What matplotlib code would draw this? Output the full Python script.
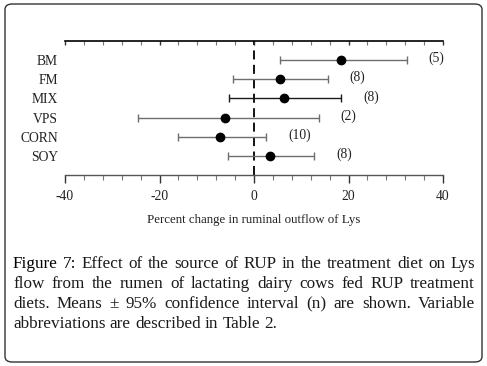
import matplotlib
matplotlib.use("Agg")
import matplotlib.pyplot as plt
from matplotlib.patches import FancyBboxPatch
from matplotlib.ticker import MultipleLocator

categories = ["BM", "FM", "MIX", "VPS", "CORN", "SOY"]
means = [18.5, 5.4, 6.3, -6.1, -7.1, 3.4]
ci_low = [5.4, -4.4, -5.2, -24.5, -16.1, -5.6]
ci_high = [32.4, 15.6, 18.5, 13.7, 2.6, 12.8]
n_labels = ["(5)", "(8)", "(8)", "(2)", "(10)", "(8)"]
bar_colors = ["#6e6e6e", "#6e6e6e", "#1a1a1a", "#6e6e6e", "#6e6e6e", "#6e6e6e"]
xticks = [-40, -20, 0, 20, 40]
xlabel = "Percent change in ruminal outflow of Lys"
caption_lines = [
    "Figure 7: Effect of the source of RUP in the treatment diet on Lys",
    "flow from the rumen of lactating dairy cows fed RUP treatment",
    "diets. Means \u00b1 95% confidence interval (n) are shown. Variable",
    "abbreviations are described in Table 2.",
]

W, H = 487, 366
fig = plt.figure(figsize=(W / 100, H / 100), dpi=100)
serif = "Liberation Serif"

# rounded frame
frame = FancyBboxPatch((5 / W, 4 / H), 477 / W, 358 / H,
                       boxstyle="round,pad=0,rounding_size=0.015",
                       transform=fig.transFigure, fill=False,
                       edgecolor="#333333", linewidth=1.0)
fig.patches.append(frame)

ax = fig.add_axes([65 / W, 1 - 175 / H, 378 / W, 134 / H])
ax.set_xlim(-40, 40)
ax.set_ylim(-1, 6)
ys = list(range(len(categories) - 1, -1, -1))

for y, m, lo, hi, c, lab in zip(ys, means, ci_low, ci_high, bar_colors, n_labels):
    ax.errorbar([m], [y], xerr=[[m - lo], [hi - m]], fmt="none", ecolor=c,
                elinewidth=1.0, capsize=2.8, capthick=1.0, zorder=2)
    ax.plot([m], [y], "o", color="black", markersize=6, zorder=3)
    ax.text(hi + 4.6, y + 0.08, lab, fontsize=9.8, family=serif, ha="left",
            va="center", color="#222222")

ax.axvline(0, ymin=0, ymax=1, color="black", linestyle=(0, (5, 3)),
           linewidth=1.3, zorder=1, clip_on=False)

ax.set_yticks(ys)
ax.set_yticklabels(categories, fontsize=9.8, family=serif, color="#222222")
ax.tick_params(axis="y", length=0, pad=5)

for s in ["left", "right"]:
    ax.spines[s].set_visible(False)
ax.spines["top"].set_linewidth(1.2)
ax.spines["bottom"].set_linewidth(1.0)
ax.spines["bottom"].set_color("#555555")

ax.set_xticks(xticks)
ax.set_xticklabels([str(t) for t in xticks], fontsize=9.8, family=serif,
                   color="#222222")
ax.xaxis.set_minor_locator(MultipleLocator(4))
ax.tick_params(axis="x", which="major", direction="out", length=6, width=1.0,
               color="#333333", pad=5, top=True)
ax.tick_params(axis="x", which="minor", direction="out", length=3.5,
               width=0.8, color="#777777", top=True)
# top ticks point inward (downward)
for t in ax.xaxis.get_major_ticks() + ax.xaxis.get_minor_ticks():
    t.tick2line.set_marker(3)  # TICKDOWN
    t.tick2line.set_markersize(3)
ax.set_xlabel(xlabel, fontsize=9.3, family=serif, labelpad=8, color="#222222")

# justified caption
fig.canvas.draw()
renderer = fig.canvas.get_renderer()
left_px, right_px = 13, 475
baselines = [267.5, 287.8, 308.2, 328.5]
fs = 12.3


def word_width(word):
    t = fig.text(0, 0, word, fontsize=fs, family=serif)
    w = t.get_window_extent(renderer).width
    t.remove()
    return w


space_w = word_width("a b") - word_width("ab")
for i, line in enumerate(caption_lines):
    words = line.split(" ")
    widths = [word_width(w) for w in words]
    total = sum(widths)
    if i < len(caption_lines) - 1:
        gap = (right_px - left_px - total) / (len(words) - 1)
    else:
        gap = space_w
    x = left_px
    for j, (w, wd) in enumerate(zip(words, widths)):
        emph = (i == 0 and j < 2)
        fig.text(x / W, 1 - baselines[i] / H, w, fontsize=fs, family=serif,
                 ha="left", va="baseline",
                 color="#000000" if emph else "#1a1a1a")
        x += wd + gap

fig.savefig("out.png", dpi=100)
